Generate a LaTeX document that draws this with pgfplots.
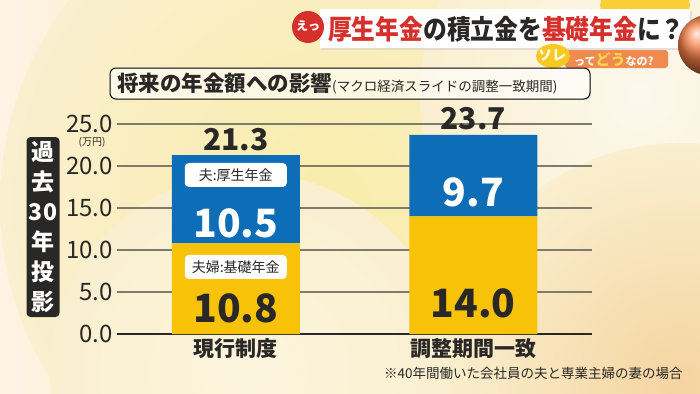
\documentclass[border=0pt]{standalone}
\usepackage{pgfplots}
\pgfplotsset{compat=1.18}
\usepackage{fontspec}
\setmainfont{Noto Sans CJK JP}
\definecolor{bgbase}{HTML}{FAEFCF}
\definecolor{bluec}{HTML}{0D6DB7}
\definecolor{yellowc}{HTML}{F8C208}
\definecolor{gridc}{HTML}{7D7A6E}
\definecolor{textc}{HTML}{2A2826}
\definecolor{redc}{HTML}{D5302B}
\definecolor{orangec}{HTML}{F08A4E}
\newcommand{\fs}[1]{\fontsize{#1bp}{#1bp}\selectfont}
\begin{document}
\begin{tikzpicture}[x=1bp,y=1bp]
\useasboundingbox (0,0) rectangle (700,393);
\clip (0,0) rectangle (700,393);
% background
\fill[bgbase] (0,0) rectangle (700,393);
\shade[left color=bgbase!60!orange!20!white, right color=bgbase] (0,0) rectangle (140,393);
\shade[inner color={rgb,255:red,249;green,237;blue,170}, outer color=bgbase] (330,190) circle (330);
\shade[inner color={rgb,255:red,252;green,248;blue,236}, outer color=bgbase] (640,300) circle (220);
\shade[inner color={rgb,255:red,245;green,212;blue,160}, outer color=bgbase] (680,10) circle (240);
\shade[inner color={rgb,255:red,252;green,245;blue,222}, outer color=bgbase] (250,20) circle (200);
% header
\fill[yellowc!80!white] (645,388) ellipse (45 and 22);
\fill[black!20, opacity=0.5] (322,343) rectangle (692,382);
\fill[white] (320,345) rectangle (690,384);
\shade[ball color=orangec!90!red] (708,348) circle (30);
\fill[redc] (308,366) circle (16);
\node[white, font=\fs{12}\bfseries] at (308,367) {えっ};
\node[anchor=west, inner sep=0] at (328,364) {\scalebox{0.88}[1]{\fs{27}\bfseries\textcolor{redc}{厚生年金}\textcolor{textc}{の積立金を}\textcolor{redc}{基礎年金}\textcolor{textc}{に？}}};
\fill[orangec, rounded corners=3bp] (565,325) rectangle (668,343);
\fill[yellowc!90!white] (553,337) ellipse (17 and 12);
\node[anchor=west, inner sep=0] at (538,337) {\fs{14}\bfseries\textcolor{white}{ソレ}};
\node[anchor=west, inner sep=0] at (574,333) {\fs{11}\bfseries\textcolor{white}{って}\textcolor{yellowc!70!white}{\fs{15}どう}\textcolor{white}{なの?}};
% title box
\draw[black, line width=1bp, fill=white, fill opacity=0.6, rounded corners=6bp] (110,294) rectangle (590,325);
\node[anchor=west, inner sep=0, textc] at (117,309.5) {\fs{21.5}\bfseries 将来の年金額への影響\fs{13.5}\mdseries(マクロ経済スライドの調整一致期間)};
% y label box
\node[fill=textc, rounded corners=4bp, minimum width=33bp, minimum height=180bp, inner sep=0] at (43,166) {};
\node[white, align=center, font={\fontsize{23bp}{30bp}\selectfont\bfseries}, inner sep=0] at (43,166) {過\\去\\30\\年\\投\\影};
\node[textc, font=\fs{10}] at (92,251) {(万円)};
% footnote
\node[anchor=west, inner sep=0, textc, font=\fs{13.5}] at (384,20) {※40年間働いた会社員の夫と専業主婦の妻の場合};
\begin{axis}[
  at={(117bp,59bp)}, anchor=south west,
  scale only axis, width=475bp, height=210bp,
  xmin=-0.5, xmax=1.5, ymin=0, ymax=25,
  enlargelimits=false, clip=false,
  ybar stacked, bar width=128bp,
  axis line style={draw=none},
  major tick length=0pt,
  xtick={0,1}, xticklabels={現行制度,調整期間一致},
  ytick={0,5,10,15,20,25},
  ymajorgrids, grid style={gridc, line width=2bp},
  /pgf/number format/assume math mode=true,
  yticklabel style={/pgf/number format/fixed, /pgf/number format/fixed zerofill, /pgf/number format/precision=1, font=\fs{24}, text=textc, inner sep=0pt, anchor=east, xshift=-4bp},
  xticklabel style={font=\fs{21}\bfseries, text=textc, inner sep=0pt, anchor=north, yshift=-4bp},
]
\addplot[fill=yellowc, draw=none] coordinates {(0,10.8) (1,14.0)};
\addplot[fill=bluec, draw=none] coordinates {(0,10.5) (1,9.7)};
\draw[textc, line width=2.5bp] (axis cs:-0.5,0) -- (axis cs:1.5,0);
\coordinate (t1) at (axis cs:0,23.1);
\coordinate (t2) at (axis cs:1,25.7);
\coordinate (b1) at (axis cs:0,13.2);
\coordinate (y1) at (axis cs:0,3.1);
\coordinate (b2) at (axis cs:1,16.9);
\coordinate (y2) at (axis cs:1,3.7);
\coordinate (l1) at (axis cs:0,18.93);
\coordinate (l2) at (axis cs:0,7.98);
\end{axis}
\node[textc, font=\fs{30}\bfseries] at (t1) {21.3};
\node[textc, font=\fs{30}\bfseries] at (t2) {23.7};
\node[white, font=\fs{39}\bfseries] at (b1) {10.5};
\node[textc, font=\fs{39}\bfseries] at (y1) {10.8};
\node[white, font=\fs{39}\bfseries] at (b2) {9.7};
\node[textc, font=\fs{39}\bfseries] at (y2) {14.0};
\node[fill=white, rounded corners=4bp, minimum width=102bp, minimum height=24bp, inner sep=0, text=textc, font=\fs{14}] at (l1) {夫:厚生年金};
\node[fill=white, rounded corners=4bp, minimum width=102bp, minimum height=24bp, inner sep=0, text=textc, font=\fs{14}] at (l2) {夫婦:基礎年金};
\end{tikzpicture}
\end{document}
